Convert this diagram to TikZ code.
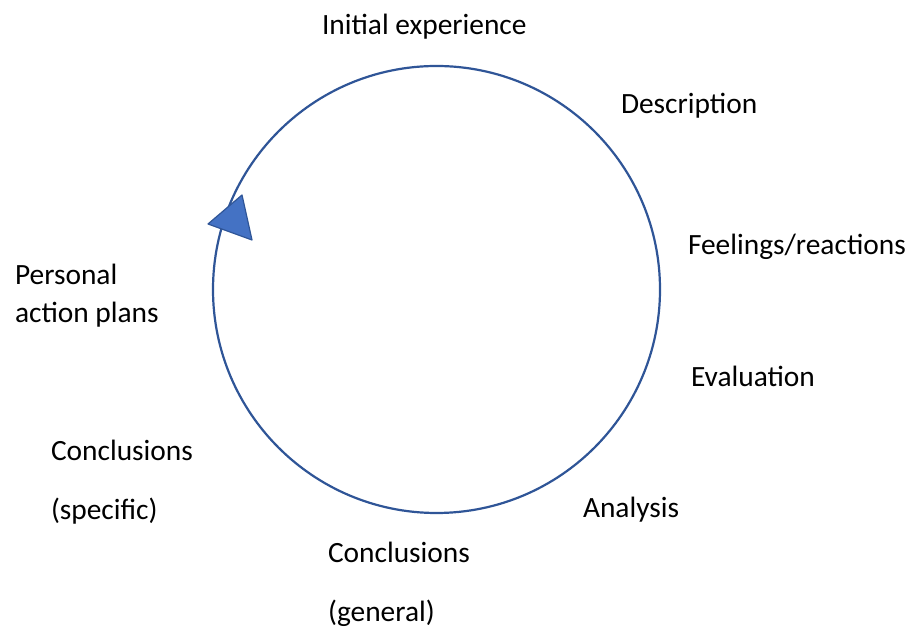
\documentclass[tikz,border=0pt]{standalone}
\usepackage{fontspec}
\setmainfont{Carlito}
\usetikzlibrary{positioning}
\definecolor{ringblue}{HTML}{2F5597}
\definecolor{tipblue}{HTML}{4472C4}
\tikzset{lbl/.style={inner sep=0pt, outer sep=0pt, anchor=base west, font=\fontsize{29.4}{35}\selectfont},
%second line of a two-line label
nextline/.style={lbl, yshift=-#1},
nextline/.default={59pt}}

\begin{document}
\begin{tikzpicture}[x=1pt,y=1pt]

\useasboundingbox (0,0) rectangle (909,628);

\coordinate (c) at (436.5,338.5);

\draw[ringblue, line width=2.2pt] (c) circle (223.5);
\filldraw[fill=tipblue, draw=ringblue, line width=1.2pt, line join=round]
    (242,433) -- (208,404) -- (252,388) -- cycle;

\node[lbl] (initial) at (322,593) {Initial experience};
\node[lbl] (descr) at (621,514) {Description};
\node[lbl] (feel) at (688,373) {Feelings/reactions};
\node[lbl] (eval) at (691,241) {Evaluation};
\node[lbl] (analysis) at (583,110) {Analysis};

\node[lbl] (concgen) at (328,65) {Conclusions};
\node[nextline] (general) at (concgen.base west) {(general)};

\node[lbl] (concspec) at (51,167) {Conclusions};
\node[nextline] (specific) at (concspec.base west) {(specific)};

\node[lbl] (personal) at (15,343) {Personal};
\node[nextline=38pt] (action) at (personal.base west) {action plans};

\end{tikzpicture}
\end{document}
